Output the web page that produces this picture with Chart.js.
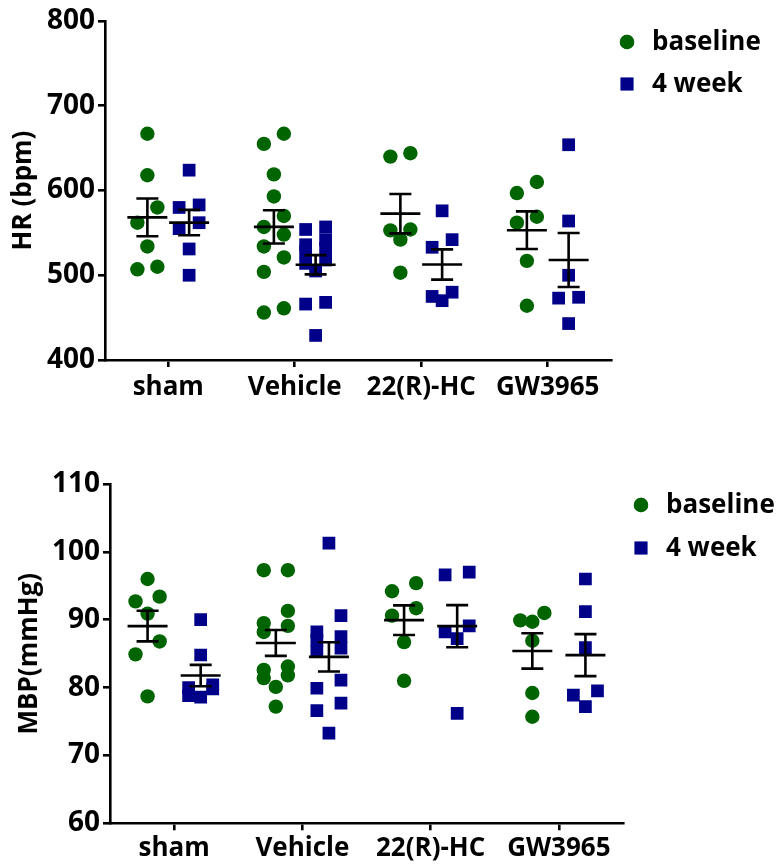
<!DOCTYPE html>
<html>
<head>
<meta charset="utf-8">
<script src="https://cdn.jsdelivr.net/npm/chart.js@4.4.1/dist/chart.umd.min.js"></script>
<style>
    html, body { margin: 0; padding: 0; background: #fff; }
    body { width: 781px; height: 865px; position: relative; overflow: hidden; }
    .panel { position: absolute; left: 0; width: 781px; }
    #hrBox { top: 0; height: 430px; }
    #mbpBox { top: 440px; height: 425px; }
</style>
</head>
<body>
<div class="panel" id="hrBox"><canvas id="hrChart"></canvas></div>
<div class="panel" id="mbpBox"><canvas id="mbpChart"></canvas></div>
<script>
// --- дані ---
const categories = ['sham', 'Vehicle', '22(R)-HC', 'GW3965'];
const seriesNames = ['baseline', '4 week'];

const hrBaseline = [
    [667, 618, 580, 562, 534, 510, 507],
    [667, 655, 619, 593, 570, 557, 548, 534, 521, 504, 461, 456],
    [644, 640, 554, 553, 542, 503],
    [610, 597, 569, 562, 517, 464]
];
const hr4week = [
    [624, 583, 580, 562, 555, 531, 500],
    [557, 554, 542, 536, 532, 528, 518, 514, 505, 468, 466, 429],
    [576, 542, 533, 480, 475, 470],
    [654, 564, 500, 474, 473, 443]
];
const hrTicks = [400, 500, 600, 700, 800];

const mbpBaseline = [
    [96.0, 93.4, 92.7, 90.9, 86.8, 84.9, 78.7],
    [97.3, 97.3, 91.3, 89.5, 89.1, 88.2, 83.1, 82.6, 81.8, 81.4, 80.1, 77.2],
    [95.4, 94.2, 91.7, 90.6, 86.7, 81.0],
    [91.0, 89.9, 89.7, 86.9, 79.2, 75.7]
];
const mbp4week = [
    [90.0, 84.8, 80.4, 80.0, 79.8, 78.8, 78.6],
    [101.3, 90.6, 88.2, 87.5, 87.0, 85.8, 85.3, 81.1, 79.9, 77.7, 76.6, 73.3],
    [97.0, 96.6, 89.1, 88.2, 87.2, 76.2],
    [96.0, 91.2, 85.9, 79.5, 78.9, 77.2]
];
const mbpTicks = [60, 70, 80, 90, 100, 110];

// --- стиль ---
const GREEN = '#006400';
const BLUE = '#000088';
const FONT = "'Open Sans', 'Liberation Sans', sans-serif";

Chart.defaults.font.family = FONT;
Chart.defaults.font.weight = 'bold';
Chart.defaults.color = '#000';

// розкид точок усередині групи (пари близьких значень ставимо поруч)
function swarmOffsets(values, gap) {
    const order = values.map((v, i) => i).sort((a, b) => values[b] - values[a]);
    const offs = new Array(values.length).fill(0);
    let k = 0;
    while (k < order.length) {
        const a = order[k];
        const b = order[k + 1];
        if (b !== undefined && values[a] - values[b] < gap) {
            offs[a] = 1;
            offs[b] = -1;
            k += 2;
        } else {
            offs[a] = 0;
            k += 1;
        }
    }
    return offs;
}

function buildPoints(groups, shift, step, gap) {
    const pts = [];
    groups.forEach((vals, ci) => {
        const offs = swarmOffsets(vals, gap);
        vals.forEach((v, i) => pts.push({ x: ci + shift + offs[i] * step, y: v }));
    });
    return pts;
}

function meanSem(vals) {
    const n = vals.length;
    const m = vals.reduce((a, b) => a + b, 0) / n;
    const sd = Math.sqrt(vals.reduce((a, b) => a + (b - m) * (b - m), 0) / (n - 1));
    return { m, sem: sd / Math.sqrt(n) };
}

// середнє ± SEM поверх точок
const errorBarPlugin = {
    id: 'errorBars',
    afterDatasetsDraw(chart) {
        const cfg = chart.options.plugins.errorBars;
        const xs = chart.scales.x, ys = chart.scales.y;
        const ctx = chart.ctx;
        ctx.save();
        ctx.strokeStyle = '#000';
        ctx.lineWidth = 2.6;
        chart.data.datasets.forEach(ds => {
            ds.groups.forEach((vals, ci) => {
                const st = meanSem(vals);
                const cx = xs.getPixelForValue(ci + ds.shift);
                const ym = ys.getPixelForValue(st.m);
                const yt = ys.getPixelForValue(st.m + st.sem);
                const yb = ys.getPixelForValue(st.m - st.sem);
                ctx.beginPath();
                ctx.moveTo(cx - cfg.meanHalf, ym); ctx.lineTo(cx + cfg.meanHalf, ym);
                ctx.moveTo(cx, yt); ctx.lineTo(cx, yb);
                ctx.moveTo(cx - cfg.capHalf, yt); ctx.lineTo(cx + cfg.capHalf, yt);
                ctx.moveTo(cx - cfg.capHalf, yb); ctx.lineTo(cx + cfg.capHalf, yb);
                ctx.stroke();
            });
        });
        ctx.restore();
    }
};

// легенда праворуч угорі
const sideLegendPlugin = {
    id: 'sideLegend',
    afterDraw(chart) {
        const cfg = chart.options.plugins.sideLegend;
        const ctx = chart.ctx;
        ctx.save();
        ctx.font = 'bold 26px ' + FONT;
        ctx.textBaseline = 'middle';
        chart.data.datasets.forEach((ds, i) => {
            const y = cfg.rows[i];
            ctx.fillStyle = ds.backgroundColor;
            Chart.helpers.drawPoint(ctx, {
                pointStyle: ds.pointStyle, radius: ds.pointRadius, rotation: 0, borderWidth: 0
            }, cfg.symX, y);
            ctx.fill();
            ctx.fillStyle = '#000';
            ctx.fillText(ds.label, cfg.textX, y + 1);
        });
        ctx.restore();
    }
};

function makePanel(canvasId, p) {
    const ctx = document.getElementById(canvasId).getContext('2d');
    const datasets = [
        {
            label: seriesNames[0], groups: p.base, shift: -p.shift,
            data: buildPoints(p.base, -p.shift, p.step, p.gap),
            pointStyle: 'circle', pointRadius: 7.2, backgroundColor: GREEN, borderWidth: 0
        },
        {
            label: seriesNames[1], groups: p.week, shift: p.shift,
            data: buildPoints(p.week, p.shift, p.step, p.gap),
            pointStyle: 'rect', pointRadius: 9, backgroundColor: BLUE, borderWidth: 0
        }
    ];
    const axisGrid = { drawOnChartArea: false, drawTicks: true, tickLength: 7, color: '#000', lineWidth: 2.6 };
    return new Chart(ctx, {
        type: 'scatter',
        data: { datasets },
        plugins: [errorBarPlugin, sideLegendPlugin],
        options: {
            responsive: true,
            maintainAspectRatio: false,
            animation: false,
            events: [],
            layout: { padding: { top: p.padTop, right: p.padRight, left: 0, bottom: 0 } },
            plugins: {
                legend: { display: false },
                tooltip: { enabled: false },
                errorBars: { meanHalf: 20, capHalf: 11 },
                sideLegend: p.legend
            },
            scales: {
                x: {
                    type: 'linear', min: -0.5, max: 3.5,
                    afterBuildTicks: s => { s.ticks = categories.map((c, i) => ({ value: i })); },
                    afterFit: s => { s.height = p.xH; },
                    grid: axisGrid,
                    border: { color: '#000', width: 2.6 },
                    ticks: {
                        callback: v => categories[v],
                        autoSkip: false, maxRotation: 0,
                        padding: p.xPad, color: '#000',
                        font: { size: 26, weight: 'bold' }
                    }
                },
                y: {
                    type: 'linear', min: p.yMin, max: p.yMax,
                    afterBuildTicks: s => { s.ticks = p.ticks.map(v => ({ value: v })); },
                    afterFit: s => { s.width = p.axisW; },
                    grid: axisGrid,
                    border: { color: '#000', width: 2.6 },
                    ticks: { padding: 3, color: '#000', font: { size: 28, weight: 'bold' } },
                    title: {
                        display: true, text: p.title, color: '#000',
                        padding: { top: p.titlePad, bottom: 0 },
                        font: { size: 26, weight: 'bold' }
                    }
                }
            }
        }
    });
}

makePanel('hrChart', {
    base: hrBaseline, week: hr4week, ticks: hrTicks, yMin: 400, yMax: 800,
    title: 'HR (bpm)', shift: 0.165, step: 0.079, gap: 20,
    axisW: 105, padTop: 21, padRight: 170, xH: 70, xPad: 5, titlePad: 8,
    legend: { symX: 627, textX: 652, rows: [42, 84] }
});

makePanel('mbpChart', {
    base: mbpBaseline, week: mbp4week, ticks: mbpTicks, yMin: 60, yMax: 110,
    title: 'MBP(mmHg)', shift: 0.207, step: 0.094, gap: 2.5,
    axisW: 110, padTop: 44, padRight: 158, xH: 41.7, xPad: 3, titlePad: 14,
    legend: { symX: 641, textX: 666, rows: [65, 108] }
});
</script>
</body>
</html>
